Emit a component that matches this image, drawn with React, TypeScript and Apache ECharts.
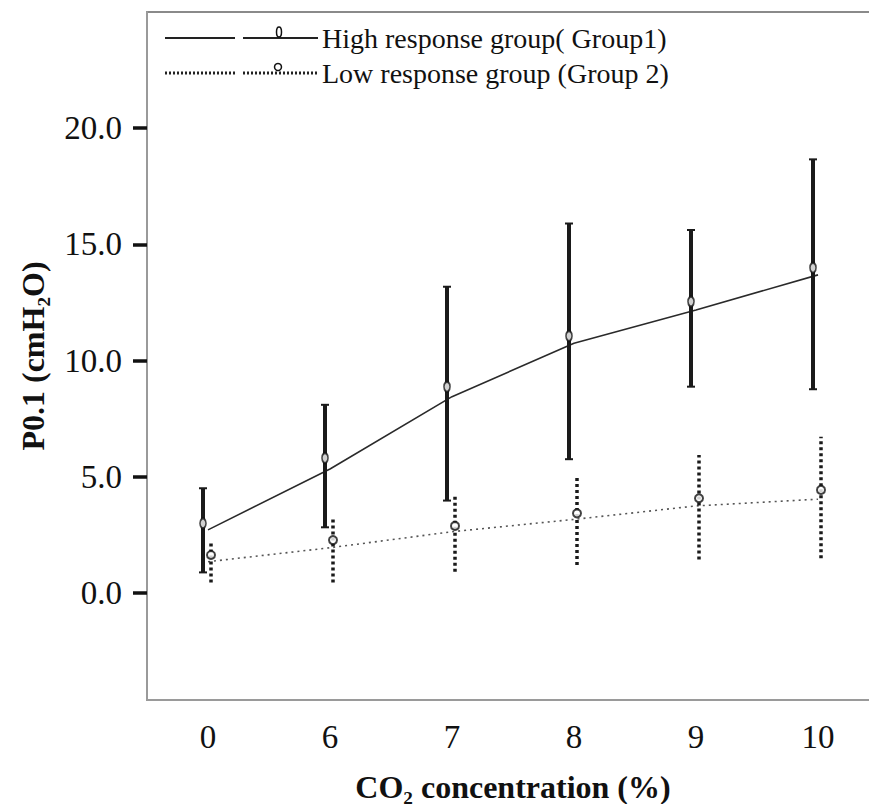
import React, { useEffect, useRef } from "react";
import * as echarts from "echarts";

const categories = ["0", "6", "7", "8", "9", "10"];
const highLine = [2.72, 5.34, 8.45, 10.75, 12.18, 13.69];
const highMean = [3.0, 5.81, 8.88, 11.06, 12.54, 14.0];
const highLow = [0.89, 2.83, 3.98, 5.76, 8.88, 8.77];
const highHigh = [4.51, 8.1, 13.18, 15.9, 15.62, 18.66];
const lowLine = [1.35, 1.95, 2.64, 3.17, 3.75, 4.04];
const lowMean = [1.64, 2.28, 2.89, 3.43, 4.08, 4.44];
const lowLow = [0.45, 0.45, 0.92, 1.21, 1.45, 1.5];
const lowHigh = [2.14, 3.26, 4.26, 5.08, 5.94, 6.73];
const yTicks = [0, 5, 10, 15, 20];
const legendNames = ["High response group( Group1)", "Low response group (Group 2)"];

const FONT = "Liberation Serif";

function errorBarSeries(lows: number[], highs: number[], offset: number, dashed: boolean) {
  return {
    type: "custom",
    z: 3,
    data: lows.map((l, i) => [i, l, highs[i]]),
    renderItem: (params: any, api: any) => {
      const idx = api.value(0);
      const pLow = api.coord([idx, api.value(1)]);
      const pHigh = api.coord([idx, api.value(2)]);
      const x = pLow[0] + offset;
      const style = {
        stroke: "#1a1a1a",
        lineWidth: dashed ? 3.5 : 4,
        lineDash: dashed ? [3, 3] : null,
      };
      const children: any[] = [
        { type: "line", shape: { x1: x, y1: pLow[1], x2: x, y2: pHigh[1] }, style },
      ];
      if (!dashed) {
        children.push(
          { type: "line", shape: { x1: x - 4, y1: pLow[1], x2: x + 4, y2: pLow[1] }, style: { stroke: "#1a1a1a", lineWidth: 2 } },
          { type: "line", shape: { x1: x - 4, y1: pHigh[1], x2: x + 4, y2: pHigh[1] }, style: { stroke: "#1a1a1a", lineWidth: 2 } }
        );
      }
      return { type: "group", children };
    },
  };
}

export default function App() {
  const ref = useRef<HTMLDivElement>(null);
  useEffect(() => {
    if (!ref.current) return;
    const chart = echarts.init(ref.current, null, { renderer: "svg" });
    const option: any = {
      animation: false,
      backgroundColor: "#ffffff",
      grid: {
        left: 147,
        width: 732,
        top: 12,
        bottom: 104,
        outerBoundsMode: "none",
        containLabel: false,
        show: true,
        borderColor: "#8a8a8a",
        borderWidth: 2,
      },
      xAxis: {
        type: "category",
        data: categories,
        boundaryGap: true,
        name: "CO\u2082 concentration (%)",
        nameLocation: "middle",
        nameGap: 71,
        nameTextStyle: { fontFamily: FONT, fontSize: 32, fontWeight: "bold", color: "#111" },
        axisLine: { onZero: false, lineStyle: { color: "#9a9a9a", width: 2 } },
        axisTick: { alignWithLabel: true, length: 14, lineStyle: { color: "#111", width: 4 } },
        axisLabel: { fontFamily: FONT, fontSize: 33, color: "#111", margin: 20 },
        splitLine: { show: false },
      },
      yAxis: {
        type: "value",
        min: -4.6,
        max: 25,
        name: "P0.1 (cmH\u2082O)",
        nameLocation: "middle",
        nameGap: 98,
        nameTextStyle: { fontFamily: FONT, fontSize: 32, fontWeight: "bold", color: "#111" },
        axisLine: { show: true, onZero: false, lineStyle: { color: "#9a9a9a", width: 2 } },
        axisTick: { show: true, length: 14, customValues: yTicks, lineStyle: { color: "#111", width: 3.5 } },
        axisLabel: {
          fontFamily: FONT,
          fontSize: 33,
          color: "#111",
          margin: 25,
          customValues: yTicks,
          formatter: (v: number) => v.toFixed(1),
        },
        splitLine: { show: false },
      },
      series: [
        {
          type: "line",
          data: highLine,
          symbol: "none",
          lineStyle: { color: "#2a2a2a", width: 1.6 },
          z: 2,
        },
        {
          type: "line",
          data: lowLine,
          symbol: "none",
          lineStyle: { color: "#555", width: 1.6, type: [2, 4] },
          z: 2,
        },
        errorBarSeries(highLow, highHigh, -5, false),
        errorBarSeries(lowLow, lowHigh, 3, true),
        {
          type: "scatter",
          data: highMean,
          symbol: "emptyCircle",
          symbolSize: [6, 10],
          symbolOffset: [-5, 0],
          itemStyle: { color: "#111", borderColor: "#111", borderWidth: 1.5 },
          z: 4,
        },
        {
          type: "scatter",
          data: lowMean,
          symbol: "emptyCircle",
          symbolSize: [8, 8],
          symbolOffset: [3, 0],
          itemStyle: { color: "#111", borderColor: "#111", borderWidth: 1.5 },
          z: 4,
        },
      ],
      graphic: [
        { type: "line", shape: { x1: 165, y1: 38, x2: 235, y2: 38 }, style: { stroke: "#222", lineWidth: 2 } },
        { type: "line", shape: { x1: 243, y1: 38, x2: 318, y2: 38 }, style: { stroke: "#222", lineWidth: 2 } },
        { type: "ellipse", shape: { cx: 279, cy: 32, rx: 2.5, ry: 5 }, style: { fill: "#fff", stroke: "#111", lineWidth: 1.5 } },
        {
          type: "text",
          x: 322,
          y: 38,
          style: { text: legendNames[0], fontFamily: FONT, fontSize: 28, fill: "#111", verticalAlign: "middle", align: "left" },
        },
        { type: "line", shape: { x1: 165, y1: 73, x2: 235, y2: 73 }, style: { stroke: "#222", lineWidth: 3, lineDash: [2, 2] } },
        { type: "line", shape: { x1: 243, y1: 73, x2: 318, y2: 73 }, style: { stroke: "#222", lineWidth: 3, lineDash: [2, 2] } },
        { type: "circle", shape: { cx: 278, cy: 67, r: 3.5 }, style: { fill: "#fff", stroke: "#111", lineWidth: 1.5 } },
        {
          type: "text",
          x: 322,
          y: 73,
          style: { text: legendNames[1], fontFamily: FONT, fontSize: 28, fill: "#111", verticalAlign: "middle", align: "left" },
        },
      ],
    };
    chart.setOption(option);
    return () => chart.dispose();
  }, []);
  return (
    <div
      ref={ref}
      style={{ position: "absolute", left: 0, top: 0, width: 869, height: 804 }}
    />
  );
}
